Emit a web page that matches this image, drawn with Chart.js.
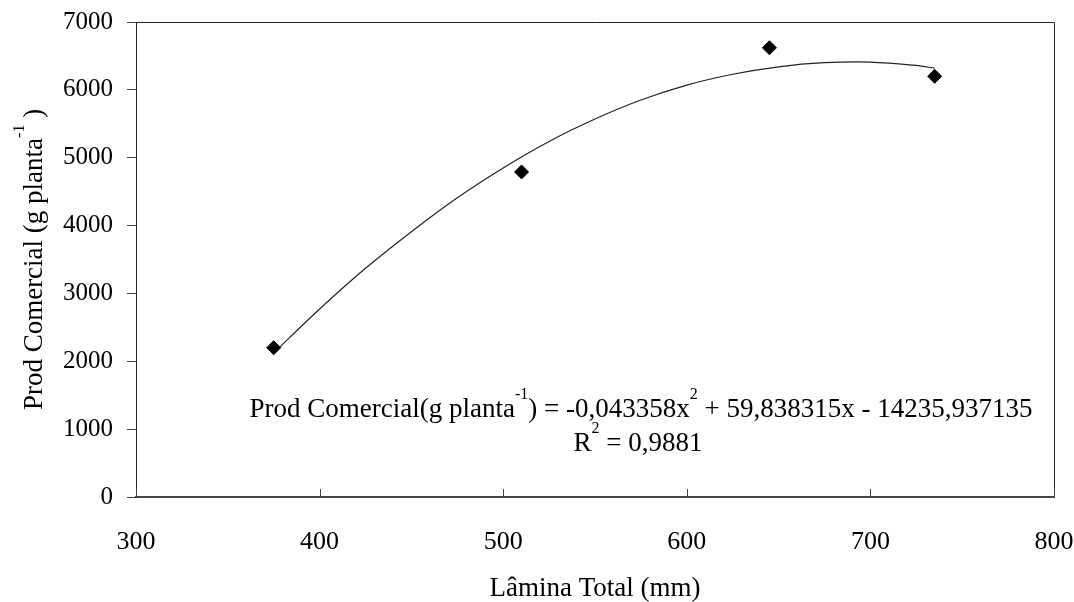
<!DOCTYPE html>
<html>
<head>
<meta charset="utf-8">
<script src="https://cdn.jsdelivr.net/npm/chart.js@4.4.1/dist/chart.umd.min.js"></script>
<style>
  html, body { margin: 0; padding: 0; background: #ffffff; }
  #wrap { width: 1074px; height: 602px; position: relative; }
</style>
</head>
<body>
<div id="wrap"><canvas id="prod-chart"></canvas></div>
<script>
// valores
const laminaTotal = [375, 510, 645, 735];
const prodComercial = [2200, 4790, 6620, 6200];

// linha de tendência (polinomial) lida ponto a ponto
const trendX = [376, 400, 425, 450, 475, 500, 525, 550, 575, 600, 625, 650, 675, 700, 725, 735];
const trendY = [2150, 2770, 3370, 3910, 4410, 4850, 5240, 5570, 5850, 6070, 6230, 6340, 6400, 6410, 6360, 6320];

const xTicks = [300, 400, 500, 600, 700, 800];
const yTicks = [0, 1000, 2000, 3000, 4000, 5000, 6000, 7000];

const serif = '"Liberation Serif", "Times New Roman", serif';

function drawRich(ctx, parts, x, y, align, size) {
    const mainFont = `${size}px ${serif}`;
    const supFont = `${Math.round(size * 0.6)}px ${serif}`;
    const raise = Math.round(size * 0.68);
    let total = 0;
    parts.forEach(p => {
        ctx.font = p.sup ? supFont : mainFont;
        total += ctx.measureText(p.t).width;
    });
    let cx = align === 'center' ? x - total / 2 : x;
    ctx.textAlign = 'left';
    ctx.textBaseline = 'alphabetic';
    parts.forEach(p => {
        ctx.font = p.sup ? supFont : mainFont;
        ctx.fillText(p.t, cx, p.sup ? y - raise : y);
        cx += ctx.measureText(p.t).width;
    });
}

const framePlugin = {
    id: 'frameAndText',
    afterDraw(chart) {
        const { ctx, chartArea, scales } = chart;
        ctx.save();
        ctx.strokeStyle = '#222';
        ctx.lineWidth = 1;
        ctx.beginPath();
        ctx.moveTo(chartArea.left, chartArea.top + 0.5);
        ctx.lineTo(chartArea.right + 0.5, chartArea.top + 0.5);
        ctx.lineTo(chartArea.right + 0.5, chartArea.bottom);
        ctx.stroke();

        // marcas do eixo x para dentro
        ctx.strokeStyle = '#444';
        xTicks.forEach(v => {
            const px = Math.round(scales.x.getPixelForValue(v)) + 0.5;
            ctx.beginPath();
            ctx.moveTo(px, chartArea.bottom);
            ctx.lineTo(px, chartArea.bottom - 8);
            ctx.stroke();
        });

        ctx.fillStyle = '#000';
        // título eixo x
        drawRich(ctx, [{ t: 'Lâmina Total (mm)' }], (chartArea.left + chartArea.right) / 2, 596, 'center', 27);

        // título eixo y
        ctx.save();
        ctx.translate(42, (chartArea.top + chartArea.bottom) / 2);
        ctx.rotate(-Math.PI / 2);
        drawRich(ctx, [{ t: 'Prod Comercial (g planta' }, { t: '-1', sup: true }, { t: ' )' }], 0, 0, 'center', 27);
        ctx.restore();

        // equação
        drawRich(ctx, [
            { t: 'Prod Comercial(g planta' }, { t: '-1', sup: true },
            { t: ') = -0,043358x' }, { t: '2', sup: true },
            { t: ' + 59,838315x - 14235,937135' }
        ], 641, 417, 'center', 27);
        drawRich(ctx, [{ t: 'R' }, { t: '2', sup: true }, { t: ' = 0,9881' }], 638, 451, 'center', 27);
        ctx.restore();
    }
};

new Chart(document.getElementById('prod-chart'), {
    type: 'scatter',
    data: {
        datasets: [
            {
                label: 'Tendência',
                data: trendX.map((x, i) => ({ x, y: trendY[i] })),
                showLine: true,
                borderColor: '#222',
                borderWidth: 1.2,
                pointRadius: 0,
                tension: 0.3,
                order: 2
            },
            {
                label: 'Prod Comercial',
                data: laminaTotal.map((x, i) => ({ x, y: prodComercial[i] })),
                pointStyle: 'rectRot',
                pointRadius: 7,
                backgroundColor: '#000',
                borderColor: '#000',
                borderWidth: 1,
                order: 1
            }
        ]
    },
    options: {
        responsive: true,
        maintainAspectRatio: false,
        animation: false,
        layout: { padding: { left: 0, top: 22, right: 20, bottom: 0 } },
        plugins: {
            legend: { display: false },
            tooltip: { enabled: false }
        },
        scales: {
            x: {
                type: 'linear',
                min: 300,
                max: 800,
                afterBuildTicks: scale => { scale.ticks = xTicks.map(v => ({ value: v })); },
                afterFit: scale => {
                    scale.height = 105;
                    scale.paddingLeft = 0;
                    scale.paddingRight = 0;
                },
                grid: { drawOnChartArea: false, drawTicks: false },
                border: { display: true, color: '#444', width: 2 },
                ticks: {
                    color: '#000',
                    padding: 30,
                    maxRotation: 0,
                    font: { family: serif, size: 26 }
                }
            },
            y: {
                type: 'linear',
                min: 0,
                max: 7000,
                afterBuildTicks: scale => { scale.ticks = yTicks.map(v => ({ value: v })); },
                afterFit: scale => {
                    scale.width = 136;
                    scale.paddingTop = 0;
                    scale.paddingBottom = 0;
                },
                grid: { drawOnChartArea: false, drawTicks: true, tickLength: 9, color: '#444' },
                border: { display: true, color: '#222', width: 1 },
                ticks: {
                    color: '#000',
                    padding: 14,
                    callback: v => String(v),
                    font: { family: serif, size: 25 }
                }
            }
        }
    },
    plugins: [framePlugin]
});
</script>
</body>
</html>
